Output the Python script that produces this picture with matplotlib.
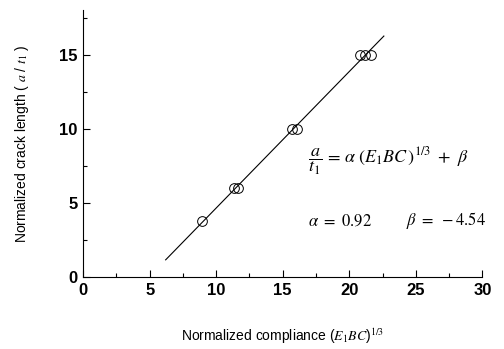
import numpy as np
import matplotlib.pyplot as plt
from matplotlib.ticker import MultipleLocator

# measured points
compliance = [8.95, 11.35, 11.65, 15.7, 16.05, 20.8, 21.2, 21.6]
crack_len = [3.8, 6.0, 6.0, 10.0, 10.0, 15.0, 15.0, 15.0]

# fit a/t1 = alpha*(E1BC)^(1/3) + beta
alpha = 0.92
beta = -4.54
fit_range = [6.2, 22.6]

plt.rcParams['mathtext.fontset'] = 'stix'

fig = plt.figure(figsize=(5.04, 3.49), dpi=100)
ax = fig.add_axes([0.165, 0.206, 0.792, 0.765])

xf = np.array(fit_range)
ax.plot(xf, alpha * xf + beta, color='black', lw=0.8)
ax.plot(compliance, crack_len, 'o', mfc='none', mec='black', ms=7, mew=0.7)

ax.set_xlim(0, 30)
ax.set_ylim(0, 18)
ax.xaxis.set_major_locator(MultipleLocator(5))
ax.xaxis.set_minor_locator(MultipleLocator(2.5))
ax.yaxis.set_major_locator(MultipleLocator(5))
ax.yaxis.set_minor_locator(MultipleLocator(2.5))
ax.tick_params(which='both', direction='in', width=0.8)
ax.tick_params(which='major', length=5, labelsize=12, pad=4)
ax.tick_params(which='minor', length=3)
for lab in ax.get_xticklabels() + ax.get_yticklabels():
    lab.set_family('Liberation Sans')
    lab.set_fontweight('bold')

ax.spines['top'].set_visible(False)
ax.spines['right'].set_visible(False)

ax.set_xlabel(r'Normalized compliance ($E_1BC$)$^{1/3}$', family='Liberation Sans',
              fontsize=10, labelpad=21)
ax.set_ylabel(r'Normalized crack length ( $a$ / $t_1$ )', family='Liberation Sans',
              fontsize=10, labelpad=20)

ax.text(16.9, 7.8, r'$\dfrac{a}{t_1}\,=\,\alpha\ \left(E_1BC\,\right)^{1/3}\ +\ \beta$',
        fontsize=13, va='center')
ax.text(16.9, 3.8, r'$\alpha\ =\ 0.92$', fontsize=12, va='center')
ax.text(24.3, 3.8, r'$\beta\ =\ -4.54$', fontsize=12, va='center')

fig.savefig('out.png', dpi=100)
